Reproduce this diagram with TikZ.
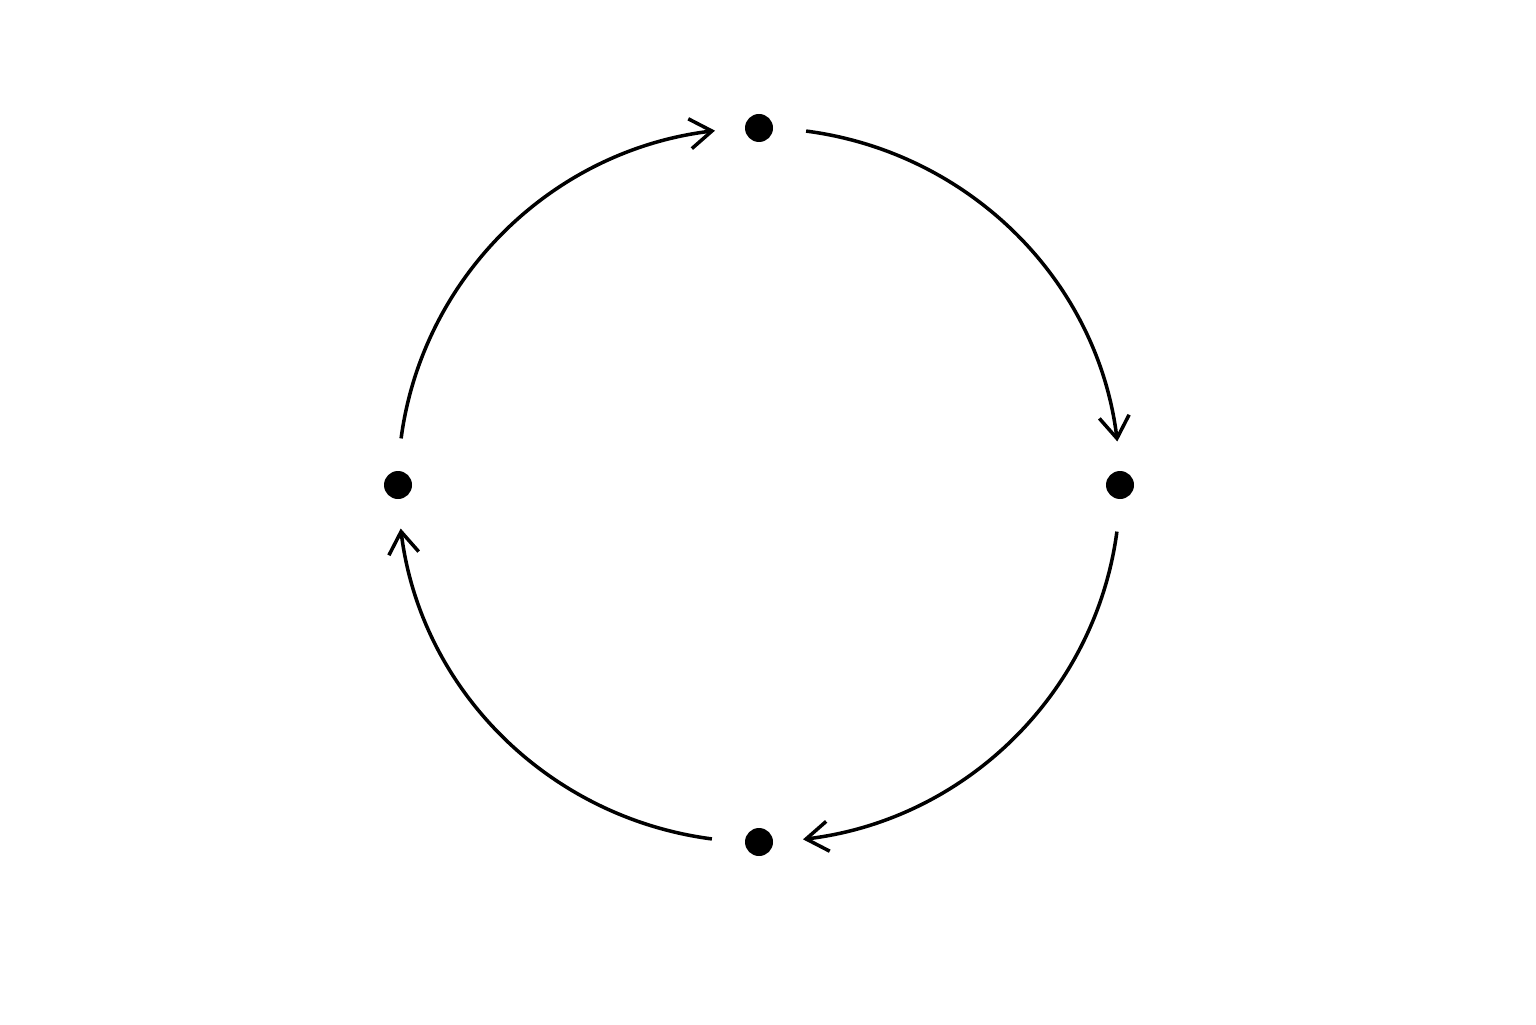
\documentclass[tikz,border=0pt]{standalone}
\usetikzlibrary{arrows.meta}

\tikzset{
    dot/.style={circle, fill=black, inner sep=0pt, minimum size=2.8mm},
    cyclearc/.style={line width=1pt, -{Straight Barb[length=2.2mm,width=3mm]}}
}

\begin{document}
\begin{tikzpicture}[x radius=3.61cm, y radius=3.57cm]
    \useasboundingbox (0,0) rectangle (15.36,10.24);

    \coordinate (C) at (7.59,5.39);

    \node[dot] (top) at ([shift={(90:3.61 and 3.57)}]C) {};
    \node[dot] (right) at ([shift={(0:3.61 and 3.57)}]C) {};
    \node[dot] (bottom) at ([shift={(-90:3.61 and 3.57)}]C) {};
    \node[dot] (left) at ([shift={(180:3.61 and 3.57)}]C) {};

    \draw[cyclearc] ([shift={(82.5:3.61 and 3.57)}]C) arc[start angle=82.5, end angle=7];
    \draw[cyclearc] ([shift={(-7.5:3.61 and 3.57)}]C) arc[start angle=-7.5, end angle=-83];
    \draw[cyclearc] ([shift={(-97.5:3.61 and 3.57)}]C) arc[start angle=-97.5, end angle=-173];
    \draw[cyclearc] ([shift={(172.5:3.61 and 3.57)}]C) arc[start angle=172.5, end angle=97];
\end{tikzpicture}
\end{document}
